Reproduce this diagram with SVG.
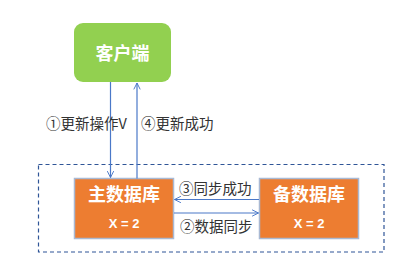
<svg xmlns="http://www.w3.org/2000/svg" width="407" height="272" viewBox="0 0 407 272">
<defs>
<style>
.cjk{font-family:"Microsoft YaHei","Noto Sans CJK SC","Liberation Sans",sans-serif}
.lbl{font-size:14.5px;fill:#333333}
.title{font-size:18px;font-weight:bold;fill:#ffffff}
.val{font-size:13px;font-weight:bold;fill:#ffffff;font-family:"Liberation Sans","Noto Sans CJK SC",sans-serif}
.conn{stroke:#4A78C8;stroke-width:1.2;fill:none}
.db{fill:#ED7D31;stroke:#A9B9D3;stroke-width:1.5}
</style>
<marker id="arr" viewBox="0 0 10 10" refX="9" refY="5" markerWidth="8" markerHeight="8" orient="auto" markerUnits="userSpaceOnUse">
<path d="M1,1 L9,5 L1,9" fill="none" stroke="#4A78C8" stroke-width="1.2"/>
</marker>
</defs>
<rect width="407" height="272" fill="#ffffff"/>
<rect x="38.5" y="164.5" width="345.5" height="87.5" fill="none" stroke="#2F5597" stroke-width="1.2" stroke-dasharray="4 3"/>
<g id="client">
<rect x="74" y="23" width="97" height="59" rx="9" fill="#92D050"/>
<text class="cjk title" x="122.5" y="60" text-anchor="middle">客户端</text>
</g>
<g id="master">
<rect class="db" x="74.5" y="178.5" width="99" height="60"/>
<text class="cjk title" x="124" y="201" text-anchor="middle">主数据库</text>
<text class="val" x="124" y="228" text-anchor="middle">X = 2</text>
</g>
<g id="slave">
<rect class="db" x="259.5" y="178.5" width="99" height="60"/>
<text class="cjk title" x="309" y="201" text-anchor="middle">备数据库</text>
<text class="val" x="309" y="228" text-anchor="middle">X = 2</text>
</g>
<g id="connectors">
<line class="conn" x1="110.5" y1="82" x2="110.5" y2="177.5" marker-end="url(#arr)"/>
<line class="conn" x1="137" y1="178.5" x2="137" y2="83" marker-end="url(#arr)"/>
<line class="conn" x1="259" y1="199.5" x2="174.5" y2="199.5" marker-end="url(#arr)"/>
<line class="conn" x1="174" y1="213" x2="258.5" y2="213" marker-end="url(#arr)"/>
<text class="cjk lbl" x="46" y="129">①更新操作V</text>
<text class="cjk lbl" x="141" y="129">④更新成功</text>
<text class="cjk lbl" x="179" y="194">③同步成功</text>
<text class="cjk lbl" x="180" y="232">②数据同步</text>
</g>
</svg>
